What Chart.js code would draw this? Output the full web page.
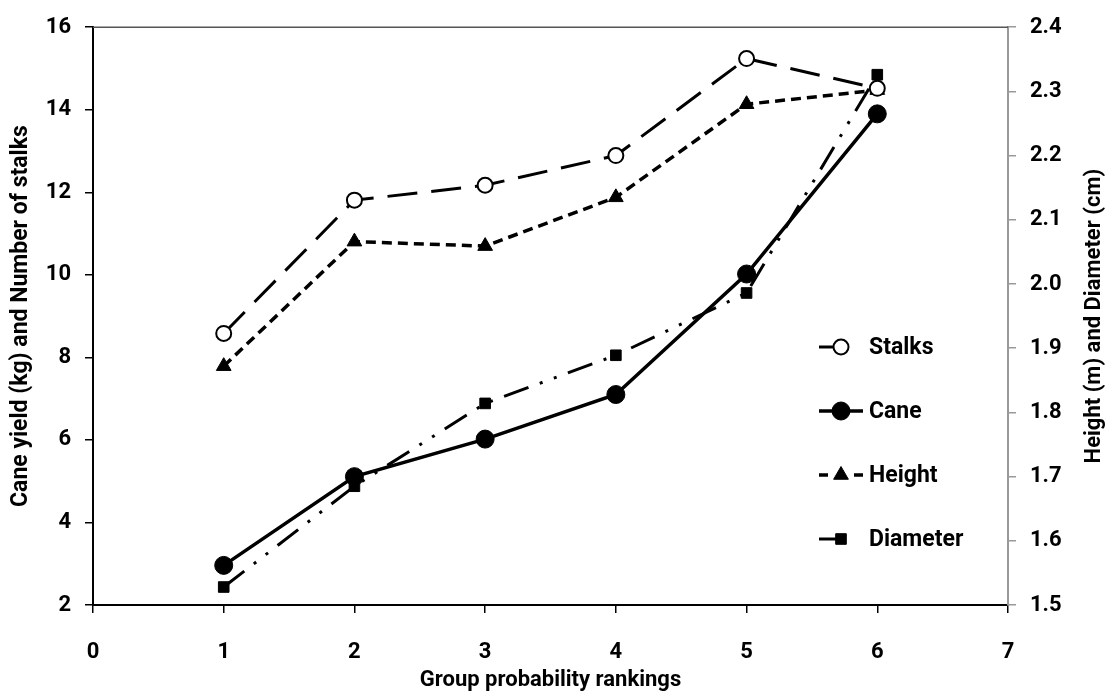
<!DOCTYPE html>
<html>
<head>
<meta charset="utf-8">
<script src="https://cdn.jsdelivr.net/npm/chart.js@4/dist/chart.umd.min.js"></script>
<style>
  html, body { margin: 0; padding: 0; background: #fff; }
  #wrap { width: 1108px; height: 696px; position: relative; }
</style>
</head>
<body>
<div id="wrap"><canvas id="yieldChart"></canvas></div>
<script>
// values
const rankings = [1, 2, 3, 4, 5, 6];
const stalks = [8.58, 11.81, 12.17, 12.89, 15.24, 14.52];
const cane = [2.96, 5.11, 6.02, 7.10, 10.02, 13.90];
const height = [1.872, 2.066, 2.059, 2.135, 2.280, 2.302];
const diameter = [1.528, 1.685, 1.814, 1.889, 1.986, 2.326];

const xTicks = [0, 1, 2, 3, 4, 5, 6, 7];
const leftTicks = [2, 4, 6, 8, 10, 12, 14, 16];
const rightTicks = [1.5, 1.6, 1.7, 1.8, 1.9, 2.0, 2.1, 2.2, 2.3, 2.4];

const FONT = 'Roboto, "Liberation Sans", sans-serif';

function pairs(ys) {
    return rankings.map((r, i) => ({ x: r, y: ys[i] }));
}

// legend drawn inside the plot, right side
const insideLegend = {
    id: 'insideLegend',
    afterDatasetsDraw(chart) {
        const ctx = chart.ctx;
        const x0 = 819, x1 = 863, mx = 841, tx = 869;
        const rows = [347, 411, 475, 539];
        chart.data.datasets.forEach((ds, i) => {
            const y = rows[i];
            ctx.save();
            ctx.strokeStyle = '#000';
            ctx.lineWidth = ds.borderWidth;
            ctx.setLineDash(ds.legendDash || []);
            ctx.beginPath();
            ctx.moveTo(x0, y);
            ctx.lineTo(ds.legendEnd || x1, y);
            ctx.stroke();
            ctx.setLineDash([]);
            ctx.fillStyle = ds.pointBackgroundColor;
            ctx.strokeStyle = ds.pointBorderColor;
            ctx.lineWidth = ds.pointBorderWidth;
            Chart.helpers.drawPoint(ctx, {
                pointStyle: ds.pointStyle,
                radius: ds.pointRadius,
                borderWidth: ds.pointBorderWidth
            }, mx, y);
            ctx.fillStyle = '#000';
            ctx.font = 'bold 23px ' + FONT;
            ctx.textBaseline = 'middle';
            ctx.fillText(ds.label, tx, y + 1);
            ctx.restore();
        });
    }
};

// frame line on top and the right-hand axis title (reads bottom to top)
const frameAndTitle = {
    id: 'frameAndTitle',
    afterDraw(chart) {
        const { ctx, chartArea } = chart;
        ctx.save();
        ctx.strokeStyle = '#555';
        ctx.lineWidth = 1.5;
        ctx.beginPath();
        ctx.moveTo(chartArea.left, chartArea.top);
        ctx.lineTo(chartArea.right, chartArea.top);
        ctx.stroke();
        ctx.translate(1094, (chartArea.top + chartArea.bottom) / 2);
        ctx.rotate(-Math.PI / 2);
        ctx.fillStyle = '#000';
        ctx.font = 'bold 22px ' + FONT;
        ctx.textAlign = 'center';
        ctx.textBaseline = 'middle';
        ctx.fillText('Height (m) and Diameter (cm)', 0, 0);
        ctx.restore();
    }
};

const ctx = document.getElementById('yieldChart').getContext('2d');
new Chart(ctx, {
    type: 'line',
    data: {
        datasets: [
            {
                label: 'Stalks',
                data: pairs(stalks),
                yAxisID: 'y',
                borderColor: '#000',
                borderWidth: 3,
                borderDash: [30, 14],
                legendDash: [],
                legendEnd: 840,
                pointStyle: 'circle',
                pointRadius: 7.5,
                pointBorderWidth: 2,
                pointBackgroundColor: '#fff',
                pointBorderColor: '#000'
            },
            {
                label: 'Cane',
                data: pairs(cane),
                yAxisID: 'y',
                borderColor: '#000',
                borderWidth: 3.5,
                legendDash: [],
                pointStyle: 'circle',
                pointRadius: 9,
                pointBorderWidth: 1,
                pointBackgroundColor: '#000',
                pointBorderColor: '#000'
            },
            {
                label: 'Height',
                data: pairs(height),
                yAxisID: 'y1',
                borderColor: '#000',
                borderWidth: 3.5,
                borderDash: [10, 6],
                legendDash: [9, 26, 9],
                pointStyle: 'triangle',
                pointRadius: 8.5,
                pointBorderWidth: 1,
                pointBackgroundColor: '#000',
                pointBorderColor: '#000'
            },
            {
                label: 'Diameter',
                data: pairs(diameter),
                yAxisID: 'y1',
                borderColor: '#000',
                borderWidth: 3,
                borderDash: [26, 12, 3, 12, 3, 12],
                legendDash: [],
                legendEnd: 840,
                pointStyle: 'rect',
                pointRadius: 7.5,
                pointBorderWidth: 1,
                pointBackgroundColor: '#000',
                pointBorderColor: '#000'
            }
        ]
    },
    options: {
        responsive: true,
        maintainAspectRatio: false,
        animation: false,
        layout: { padding: { top: 20, left: 0, right: 0, bottom: 0 } },
        plugins: {
            legend: { display: false },
            tooltip: { enabled: false }
        },
        scales: {
            x: {
                type: 'linear',
                min: 0,
                max: 7,
                afterFit: s => { s.height = 91; },
                afterBuildTicks: s => { s.ticks = xTicks.map(v => ({ value: v })); },
                grid: { drawOnChartArea: false, tickLength: 8, color: '#000', lineWidth: 1.5 },
                border: { color: '#000', width: 2 },
                ticks: { color: '#000', padding: 26, font: { family: FONT, size: 22, weight: 'bold' } },
                title: {
                    display: true,
                    text: 'Group probability rankings',
                    color: '#000',
                    padding: { top: 0, bottom: 2 },
                    font: { family: FONT, size: 22, weight: 'bold' }
                }
            },
            y: {
                type: 'linear',
                position: 'left',
                min: 2,
                max: 16,
                afterFit: s => { s.width = 93; },
                afterBuildTicks: s => { s.ticks = leftTicks.map(v => ({ value: v })); },
                grid: { drawOnChartArea: false, tickLength: 8, color: '#000', lineWidth: 1.5 },
                border: { color: '#000', width: 2 },
                ticks: { color: '#000', padding: 14, font: { family: FONT, size: 22, weight: 'bold' } },
                title: {
                    display: true,
                    text: 'Cane yield (kg) and Number of stalks',
                    color: '#000',
                    padding: { top: 7, bottom: 0 },
                    font: { family: FONT, size: 23, weight: 'bold' }
                }
            },
            y1: {
                type: 'linear',
                position: 'right',
                min: 1.5,
                max: 2.4,
                afterFit: s => { s.width = 100; },
                afterBuildTicks: s => { s.ticks = rightTicks.map(v => ({ value: v })); },
                grid: { drawOnChartArea: false, tickLength: 8, color: '#999', lineWidth: 1.5 },
                border: { color: '#999', width: 2 },
                ticks: {
                    color: '#000',
                    padding: 14,
                    font: { family: FONT, size: 22, weight: 'bold' },
                    callback: v => v.toFixed(1)
                },
                title: { display: false }
            }
        }
    },
    plugins: [insideLegend, frameAndTitle]
});
</script>
</body>
</html>
